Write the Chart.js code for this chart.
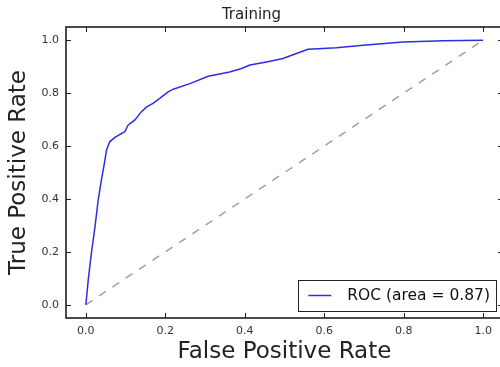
<!DOCTYPE html>
<html>
<head>
<meta charset="utf-8">
<title>Training ROC</title>
<script src="https://cdn.jsdelivr.net/npm/chart.js"></script>
<style>
  html, body { margin: 0; padding: 0; background: #fff; overflow: hidden; }
  .chart-container { width: 510px; height: 367px; }
</style>
</head>
<body>
<div class="chart-container">
  <canvas id="roc" width="510" height="367"></canvas>
</div>
<script>
// ROC curve
const fpr = [0, 0.006, 0.014, 0.023, 0.031, 0.039, 0.048, 0.052, 0.060, 0.073,
  0.098, 0.106, 0.123, 0.140, 0.153, 0.169, 0.186, 0.207, 0.220, 0.262,
  0.308, 0.362, 0.392, 0.413, 0.455, 0.496, 0.530, 0.559, 0.597, 0.631,
  0.698, 0.798, 0.900, 1.0];
const tpr = [0, 0.094, 0.196, 0.295, 0.396, 0.470, 0.547, 0.585, 0.616, 0.633,
  0.654, 0.679, 0.698, 0.730, 0.748, 0.761, 0.780, 0.805, 0.815, 0.836,
  0.864, 0.880, 0.893, 0.906, 0.918, 0.931, 0.950, 0.966, 0.969, 0.972,
  0.981, 0.993, 0.998, 1.0];

// chance line
const chanceX = [0, 1];
const chanceY = [0, 1];

const rocLabel = 'ROC (area = 0.87)';
const xTicks = [0.0, 0.2, 0.4, 0.6, 0.8, 1.0];
const yTicks = [0.0, 0.2, 0.4, 0.6, 0.8, 1.0];

const FONT = "'DejaVu Sans', 'Liberation Sans', sans-serif";

/**
 * Draws the box round the plot with inward ticks on all four sides,
 * the way the old matplotlib style does
 */
const frameTicks = {
  id: 'frameTicks',
  afterDatasetsDraw(chart) {
    const { ctx, chartArea: ca, scales } = chart;
    const len = 5;
    ctx.save();
    ctx.strokeStyle = '#222';
    ctx.lineWidth = 1;
    ctx.beginPath();
    xTicks.forEach(v => {
      const px = Math.round(scales.x.getPixelForValue(v)) + 0.5;
      ctx.moveTo(px, ca.bottom); ctx.lineTo(px, ca.bottom - len);
      ctx.moveTo(px, ca.top); ctx.lineTo(px, ca.top + len);
    });
    yTicks.forEach(v => {
      const py = Math.round(scales.y.getPixelForValue(v)) + 0.5;
      ctx.moveTo(ca.left, py); ctx.lineTo(ca.left + len, py);
      ctx.moveTo(ca.right, py); ctx.lineTo(ca.right - len, py);
    });
    ctx.stroke();
    ctx.lineWidth = 1.5;
    ctx.strokeStyle = '#111';
    ctx.strokeRect(ca.left, ca.top, ca.right - ca.left, ca.bottom - ca.top);
    ctx.restore();
  }
};

/**
 * Legend box in the lower right corner of the plot
 */
const cornerLegend = {
  id: 'cornerLegend',
  afterDraw(chart) {
    const { ctx, chartArea: ca } = chart;
    const ds = chart.data.datasets[0];
    ctx.save();
    ctx.font = '15.5px ' + FONT;
    const textW = ctx.measureText(ds.label).width;
    const boxRight = ca.right - 7;
    const boxBottom = ca.bottom - 7;
    const boxH = 31;
    const textX = boxRight - 6 - textW;
    const lineX2 = textX - 16;
    const lineX1 = lineX2 - 23;
    const boxLeft = lineX1 - 10;
    const midY = boxBottom - boxH / 2;

    ctx.fillStyle = '#fff';
    ctx.fillRect(boxLeft, boxBottom - boxH, boxRight - boxLeft, boxH);
    ctx.strokeStyle = '#222';
    ctx.lineWidth = 1;
    ctx.strokeRect(Math.round(boxLeft) + 0.5, Math.round(boxBottom - boxH) + 0.5,
      Math.round(boxRight - boxLeft), boxH);

    ctx.strokeStyle = ds.borderColor;
    ctx.lineWidth = ds.borderWidth;
    ctx.beginPath();
    ctx.moveTo(lineX1, midY);
    ctx.lineTo(lineX2, midY);
    ctx.stroke();

    ctx.fillStyle = '#111';
    ctx.textBaseline = 'middle';
    ctx.fillText(ds.label, textX, midY);
    ctx.restore();
  }
};

const toPoints = (xs, ys) => xs.map((x, i) => ({ x: x, y: ys[i] }));

const chartConfig = {
  type: 'scatter',
  data: {
    datasets: [
      {
        label: rocLabel,
        data: toPoints(fpr, tpr),
        showLine: true,
        borderColor: 'rgb(45, 45, 225)',
        borderWidth: 1.5,
        pointRadius: 0,
        tension: 0
      },
      {
        label: 'chance',
        data: toPoints(chanceX, chanceY),
        showLine: true,
        borderColor: '#a0a0a0',
        borderWidth: 1.5,
        borderDash: [8, 8],
        pointRadius: 0
      }
    ]
  },
  options: {
    responsive: false,
    animation: false,
    layout: { padding: { left: 0, top: 0, right: 7, bottom: 0 } },
    plugins: {
      legend: { display: false },
      tooltip: { enabled: false },
      title: {
        display: true,
        text: 'Training',
        color: '#222',
        font: { family: FONT, size: 15, weight: 'normal', lineHeight: 1.2 },
        padding: { top: 6, bottom: 3 }
      }
    },
    scales: {
      x: {
        type: 'linear',
        min: -0.05,
        max: 1.05,
        afterBuildTicks: s => { s.ticks = xTicks.map(v => ({ value: v })); },
        afterFit: s => { s.height = 49; },
        grid: { display: false, drawTicks: false },
        border: { display: false },
        ticks: {
          padding: 7,
          color: '#333',
          font: { family: FONT, size: 11 },
          callback: v => v.toFixed(1)
        },
        title: {
          display: true,
          text: 'False Positive Rate',
          color: '#222',
          font: { family: FONT, size: 23, lineHeight: 1 },
          padding: { top: 0, bottom: 3.5 }
        }
      },
      y: {
        type: 'linear',
        min: -0.05,
        max: 1.05,
        afterBuildTicks: s => { s.ticks = yTicks.map(v => ({ value: v })); },
        afterFit: s => { s.width = 66; },
        grid: { display: false, drawTicks: false },
        border: { display: false },
        ticks: {
          padding: 7,
          color: '#333',
          font: { family: FONT, size: 11 },
          callback: v => v.toFixed(1)
        },
        title: {
          display: true,
          text: 'True Positive Rate',
          color: '#222',
          font: { family: FONT, size: 23, lineHeight: 1 },
          padding: { top: 7.5, bottom: 0 }
        }
      }
    }
  },
  plugins: [frameTicks, cornerLegend]
};

new Chart(document.getElementById('roc'), chartConfig);
</script>
</body>
</html>
